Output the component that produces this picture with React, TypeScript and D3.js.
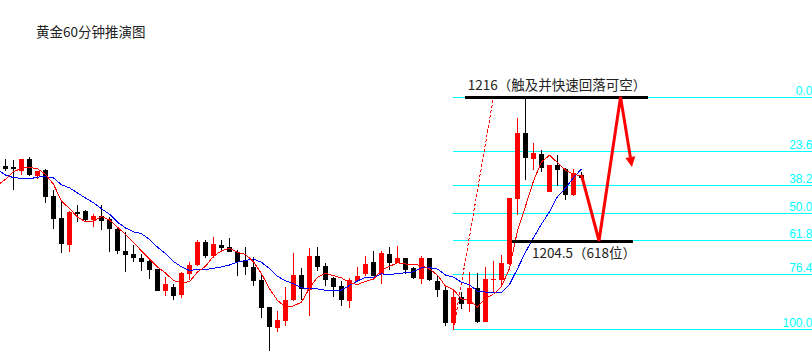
import React from "react";
import * as d3 from "d3";

const W = 812;
const H = 357;

// OHLC for 73 hourly candles (prices)
const opens = [
  1210.48, 1210.40, 1210.12, 1211.04, 1209.70, 1210.16, 1208.08, 1206.32, 1204.16, 1206.80,
  1206.88, 1206.14, 1206.48, 1206.22, 1205.46, 1203.68, 1203.44, 1203.14, 1202.90, 1202.24,
  1200.50, 1200.80, 1200.16, 1201.86, 1202.56, 1204.42, 1203.28, 1204.16, 1203.98, 1203.62,
  1202.90, 1202.42, 1201.36, 1199.20, 1197.54, 1198.08, 1199.76, 1201.76, 1200.56, 1203.28,
  1202.48, 1201.50, 1200.90, 1199.70, 1201.30, 1201.84, 1202.78, 1201.84, 1203.44, 1202.74,
  1203.10, 1202.30, 1201.44, 1203.10, 1201.28, 1200.56, 1197.88, 1199.98, 1199.44, 1200.70,
  1198.02, 1201.36, 1201.36, 1202.64, 1207.82, 1213.14, 1211.06, 1211.44, 1208.42, 1210.56,
  1210.22, 1208.16, 1209.80,
];
const highs = [
  1211.04, 1210.96, 1211.08, 1211.16, 1210.12, 1210.20, 1208.56, 1207.76, 1206.88, 1207.36,
  1206.96, 1206.64, 1207.36, 1206.42, 1205.62, 1205.22, 1204.16, 1203.44, 1203.10, 1202.28,
  1201.62, 1201.02, 1202.02, 1202.82, 1204.56, 1204.56, 1204.78, 1204.56, 1204.70, 1203.76,
  1203.98, 1203.18, 1201.90, 1199.22, 1198.88, 1200.78, 1203.50, 1202.30, 1203.94, 1203.98,
  1202.70, 1201.62, 1201.30, 1201.50, 1202.38, 1203.28, 1203.70, 1203.70, 1203.98, 1204.08,
  1203.12, 1202.38, 1203.28, 1203.12, 1201.70, 1200.96, 1200.48, 1200.42, 1201.98, 1201.94,
  1202.42, 1202.90, 1203.36, 1207.94, 1214.30, 1215.96, 1212.34, 1211.72, 1210.60, 1211.36,
  1210.30, 1210.24, 1209.98,
];
const lows = [
  1210.08, 1208.56, 1209.80, 1209.68, 1209.44, 1207.52, 1205.44, 1203.52, 1203.62, 1206.04,
  1205.96, 1205.60, 1205.36, 1203.62, 1203.42, 1202.02, 1202.78, 1202.10, 1201.44, 1200.48,
  1200.12, 1199.76, 1199.94, 1201.36, 1202.48, 1203.10, 1203.10, 1203.76, 1203.58, 1201.70,
  1201.76, 1200.90, 1198.34, 1195.68, 1197.18, 1197.68, 1199.72, 1199.76, 1198.50, 1202.10,
  1200.90, 1199.98, 1199.30, 1199.14, 1201.28, 1201.70, 1201.68, 1201.04, 1202.16, 1202.72,
  1201.82, 1201.44, 1201.02, 1201.32, 1200.02, 1197.70, 1197.36, 1199.04, 1198.82, 1197.96,
  1198.00, 1200.30, 1200.96, 1202.60, 1206.56, 1209.36, 1210.16, 1210.02, 1208.40, 1208.88,
  1207.80, 1208.12, 1209.36,
];
const closes = [
  1210.24, 1210.20, 1211.04, 1209.72, 1210.08, 1208.02, 1206.24, 1204.24, 1206.82, 1206.64,
  1206.16, 1206.48, 1206.10, 1205.46, 1203.70, 1203.38, 1203.14, 1202.78, 1202.16, 1200.50,
  1201.04, 1200.10, 1201.90, 1202.56, 1204.42, 1203.28, 1204.22, 1203.94, 1203.62, 1202.82,
  1202.42, 1201.30, 1199.14, 1197.62, 1198.16, 1199.76, 1201.76, 1200.64, 1203.28, 1202.42,
  1201.36, 1200.82, 1199.76, 1201.36, 1201.68, 1202.64, 1201.70, 1203.50, 1202.74, 1203.10,
  1202.16, 1201.50, 1203.10, 1201.36, 1200.56, 1197.88, 1200.00, 1199.44, 1200.70, 1197.98,
  1201.44, 1201.44, 1202.70, 1207.90, 1213.14, 1211.14, 1211.54, 1210.34, 1210.56, 1210.16,
  1208.16, 1209.88, 1209.56,
];
// closes of the ten bars before the visible window (for the moving averages)
const priorCloses = [
  1214.64, 1212.36, 1211.52, 1210.24, 1208.56, 1207.84, 1207.16, 1209.68, 1209.32, 1210.68,
];

const maFastPeriod = 5;
const maSlowPeriod = 10;

// Fibonacci retracement
const fibHighPrice = 1216;
const fibLowPrice = 1197.39;
const fibLowIndex = 56;
const fibHighIndex = 61;
const fibLevels = [0, 23.6, 38.2, 50.0, 61.8, 76.4, 100.0];
const fibLabels = ["0.0", "23.6", "38.2", "50.0", "61.8", "76.4", "100.0"];

// annotations
const title = "黄金60分钟推演图";
const topLevel = { price: 1216, from: 57.4, to: 80.3, label: "1216（触及并快速回落可空）" };
const supportLevel = { price: 1204.5, from: 63.3, to: 78.4, label: "1204.5（618位）" };
const pathIdx = [72, 74.19, 76.88, 78.31];
const pathPrice = [1209.76, 1204.5, 1216, 1210.4];

const RED = "#FF0000";
const CYAN = "#00FFFF";
const BLUE = "#0000FF";

function movingAverage(period: number, startIdx: number) {
  const all = [...priorCloses, ...closes];
  const off = priorCloses.length;
  const out: [number, number][] = [];
  for (let i = startIdx; i < closes.length; i++) {
    const j = i + off;
    if (j - period + 1 < 0) continue;
    let s = 0;
    for (let k = j - period + 1; k <= j; k++) s += all[k];
    out.push([i, s / period]);
  }
  return out;
}

export default function App() {
  const x = d3.scaleLinear().domain([0, 72]).range([5.5, 581.5]);
  const y = d3.scaleLinear().domain([1195.2, 1223.76]).range([H, 0]);

  const line = d3
    .line<[number, number]>()
    .x((d) => x(d[0]))
    .y((d) => y(d[1]));

  const maFast = movingAverage(maFastPeriod, -1);
  const maSlow = movingAverage(maSlowPeriod, -1);

  const fibY = (lv: number) =>
    Math.floor(y(fibHighPrice - (fibHighPrice - fibLowPrice) * (lv / 100))) + 0.5;

  const zig: [number, number][] = pathIdx.map((v, i) => [v, pathPrice[i]]);
  const zp = zig.map((d) => [x(d[0]), y(d[1])]);
  const tip = zp[zp.length - 1];
  const prev = zp[zp.length - 2];
  const ang = Math.atan2(tip[1] - prev[1], tip[0] - prev[0]);
  const headLen = 10;
  const headHalf = 5;
  const base = [tip[0] - headLen * Math.cos(ang), tip[1] - headLen * Math.sin(ang)];
  const shaftPts = zp.slice(0, -1).concat([base]);
  const headPts = [
    tip,
    [base[0] + headHalf * Math.sin(ang), base[1] - headHalf * Math.cos(ang)],
    [base[0] - headHalf * Math.sin(ang), base[1] + headHalf * Math.cos(ang)],
  ];

  const cjk = "'Noto Sans CJK SC', 'Noto Sans', sans-serif";

  return (
    <div style={{ position: "absolute", left: 0, top: 0 }}>
      <svg width={W} height={H} style={{ display: "block", background: "#fff" }}>
        <rect x={0} y={0} width={W} height={H} fill="#fff" />
        <text x={36} y={37} fontFamily={cjk} fontSize={13.5} fill="#222">
          {title}
        </text>

        {/* fib levels */}
        {fibLevels.map((lv, i) => (
          <g key={"fib" + i}>
            <line
              x1={x(fibLowIndex) - 0.5}
              x2={W}
              y1={fibY(lv)}
              y2={fibY(lv)}
              stroke={CYAN}
              strokeWidth={1}
              shapeRendering="crispEdges"
            />
            <text
              x={W + 0.5}
              y={fibY(lv) - 3}
              textAnchor="end"
              fontFamily="'Liberation Sans', Arial, sans-serif"
              fontSize={12}
              fill={CYAN}
            >
              {fibLabels[i]}
            </text>
          </g>
        ))}

        {/* fib trend line */}
        <line
          x1={x(fibLowIndex)}
          y1={y(fibLowPrice)}
          x2={x(fibHighIndex)}
          y2={y(fibHighPrice)}
          stroke={RED}
          strokeWidth={1}
          strokeDasharray="3,2"
          shapeRendering="crispEdges"
        />

        {/* candles */}
        {closes.map((c, i) => {
          const o = opens[i];
          const up = c > o;
          const col = up ? RED : "#000";
          const cx = x(i);
          const top = Math.round(y(Math.max(o, c)));
          const bot = Math.round(y(Math.min(o, c)));
          const hy = Math.round(y(highs[i]));
          const ly = Math.round(y(lows[i]));
          return (
            <g key={"c" + i} shapeRendering="crispEdges">
              <rect x={cx - 0.5} y={hy} width={1} height={Math.max(1, ly - hy)} fill={col} />
              <rect x={cx - 2.5} y={top} width={5} height={Math.max(1, bot - top)} fill={col} />
            </g>
          );
        })}

        {/* moving averages */}
        <path d={line(maSlow) || ""} fill="none" stroke={BLUE} strokeWidth={1} shapeRendering="crispEdges" />
        <path d={line(maFast) || ""} fill="none" stroke={RED} strokeWidth={1} shapeRendering="crispEdges" />

        {/* horizontal key levels */}
        <line
          x1={x(topLevel.from)}
          x2={x(topLevel.to)}
          y1={y(topLevel.price) + 0.5}
          y2={y(topLevel.price) + 0.5}
          stroke="#000"
          strokeWidth={3}
          shapeRendering="crispEdges"
        />
        <text x={x(topLevel.from) + 3} y={y(topLevel.price) - 7} fontFamily={cjk} fontSize={13.5} fill="#222">
          {topLevel.label}
        </text>
        <line
          x1={x(supportLevel.from)}
          x2={x(supportLevel.to)}
          y1={y(supportLevel.price) + 0.5}
          y2={y(supportLevel.price) + 0.5}
          stroke="#000"
          strokeWidth={3}
          shapeRendering="crispEdges"
        />
        <text x={x(supportLevel.from) + 20} y={y(supportLevel.price) + 17} fontFamily={cjk} fontSize={13.5} fill="#222">
          {supportLevel.label}
        </text>

        {/* projected path */}
        <polyline
          points={shaftPts.map((p) => p.join(",")).join(" ")}
          fill="none"
          stroke={RED}
          strokeWidth={3}
          strokeLinejoin="miter"
        />
        <polygon points={headPts.map((p) => p.join(",")).join(" ")} fill={RED} />
      </svg>
    </div>
  );
}
